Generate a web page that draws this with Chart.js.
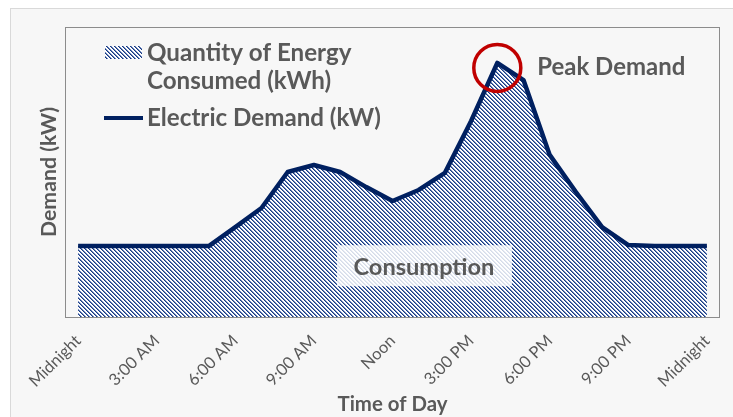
<!DOCTYPE html>
<html><head><meta charset="utf-8">
<script src="https://cdn.jsdelivr.net/npm/chart.js@4.4.1/dist/chart.umd.min.js"></script>
<style>
html,body{margin:0;padding:0;background:#fff;overflow:hidden;}
#frame{position:absolute;left:10px;top:8px;width:760px;height:440px;border:1px solid #d9d9d9;background:#f7f7f7;}
#wrap{position:absolute;left:0;top:0;width:733px;height:417px;}
</style></head><body>
<div id="frame"></div>
<div id="wrap"><canvas id="c" width="733" height="417"></canvas></div>
<script>
// ---- data ----
const hours = [0,1,2,3,4,5,6,7,8,9,10,11,12,13,14,15,16,17,18,19,20,21,22,23,24];
const demand = [24.5,24.5,24.5,24.5,24.5,24.5,31,37.6,50,52.4,50,44.8,40,43.8,49.7,67.6,87.6,81.7,55.9,43.1,31,24.8,24.5,24.5,24.5];
const tickHours = [0,3,6,9,12,15,18,21,24];
const tickLabels = ['Midnight','3:00 AM','6:00 AM','9:00 AM','Noon','3:00 PM','6:00 PM','9:00 PM','Midnight'];
const legendLabels = ['Quantity of Energy','Consumed (kWh)','Electric Demand (kW)'];
const peakLabel = 'Peak Demand';
const areaLabel = 'Consumption';

const FAM = 'Lato, "Open Sans", sans-serif';
const TXT = '#595959';
const NAVY = '#002060';

function fitSize(text, weight, target){
  const m = document.createElement('canvas').getContext('2d');
  m.font = weight + ' 100px ' + FAM;
  return 100 * target / m.measureText(text).width;
}
const legendSize = fitSize(legendLabels[2], 'bold', 234);
const peakSize = fitSize(peakLabel, 'bold', 148);
const areaSize = fitSize(areaLabel, 'bold', 141);
const yTitleSize = fitSize('Demand (kW)', 'bold', 130);
const xTitleSize = fitSize('Time of Day', 'bold', 110);

const canvas = document.getElementById('c');
const ctx = canvas.getContext('2d');

function makePattern(){
  const c = document.createElement('canvas'); c.width = 4; c.height = 4;
  const g = c.getContext('2d');
  g.fillStyle = '#ffffff'; g.fillRect(0,0,4,4);
  for (let i=0;i<4;i++){
    g.fillStyle = '#183a80'; g.fillRect(i,i,1,1);
    g.fillStyle = '#6a84bc'; g.fillRect((i+1)%4,i,1,1);
  }
  return ctx.createPattern(c,'repeat');
}
const pattern = makePattern();

const overlay = {
  id: 'overlay',
  afterDatasetsDraw(chart){
    const c = chart.ctx, xs = chart.scales.x, ys = chart.scales.y;
    c.save();
    c.font = 'bold ' + areaSize + 'px ' + FAM;
    const cx = xs.getPixelForValue(13.2), cy = ys.getPixelForValue(17.5);
    c.fillStyle = 'rgba(255,255,255,0.82)';
    c.fillRect(cx - 87, cy - 21, 175, 41);
    c.fillStyle = TXT; c.textAlign = 'center'; c.textBaseline = 'middle';
    c.fillText(areaLabel, cx, cy + 1);
    c.restore();
  },
  afterDraw(chart){
    const c = chart.ctx, a = chart.chartArea, xs = chart.scales.x, ys = chart.scales.y;
    c.save();
    c.strokeStyle = '#8c8c8c'; c.lineWidth = 1;
    c.strokeRect(a.left + 0.5, a.top + 0.5, a.right - a.left - 1, a.bottom - a.top);
    let pi = 0; demand.forEach((v,i)=>{ if (v > demand[pi]) pi = i; });
    const px = xs.getPixelForValue(hours[pi]), py = ys.getPixelForValue(demand[pi]);
    c.strokeStyle = '#c00000'; c.lineWidth = 3.5;
    c.beginPath(); c.arc(px, py + 5, 23.5, 0, Math.PI*2); c.stroke();
    c.fillStyle = TXT; c.textBaseline = 'middle'; c.textAlign = 'left';
    c.font = 'bold ' + peakSize + 'px ' + FAM;
    c.fillText(peakLabel, px + 40, py + 4);
    c.fillStyle = pattern;
    c.fillRect(105, 46, 37, 13);
    c.strokeStyle = NAVY; c.lineWidth = 4;
    c.beginPath(); c.moveTo(104, 118); c.lineTo(143, 118); c.stroke();
    c.fillStyle = TXT;
    c.font = 'bold ' + legendSize + 'px ' + FAM;
    c.fillText(legendLabels[0], 147, 53);
    c.fillText(legendLabels[1], 147, 81);
    c.fillText(legendLabels[2], 147, 118);
    c.restore();
  }
};

new Chart(ctx, {
  type: 'line',
  data: {
    datasets: [{
      label: 'Electric Demand (kW)',
      data: hours.map((h,i)=>({x:h, y:demand[i]})),
      borderColor: NAVY,
      borderWidth: 4.5,
      backgroundColor: pattern,
      fill: 'origin',
      pointRadius: 0,
      tension: 0,
      borderJoinStyle: 'round'
    }]
  },
  options: {
    responsive: false,
    animation: false,
    devicePixelRatio: 1,
    layout: { padding: { left: 10, top: 27, right: 13, bottom: 0 } },
    plugins: { legend: { display: false }, tooltip: { enabled: false } },
    scales: {
      x: {
        type: 'linear', min: -0.5, max: 24.5,
        afterBuildTicks: (s) => { s.ticks = tickHours.map(v => ({value: v})); },
        afterFit: (s) => { s.height = 100; },
        grid: { display: false },
        border: { display: false },
        ticks: {
          autoSkip: false, maxRotation: 45, minRotation: 45, padding: 6,
          color: TXT, font: { family: FAM, size: 16.5 },
          callback: (v) => tickLabels[tickHours.indexOf(v)]
        },
        title: { display: true, text: 'Time of Day', color: TXT,
                 font: { family: FAM, size: xTitleSize, weight: 'bold' }, padding: { top: 0, bottom: 0 } }
      },
      y: {
        min: 0, max: 100,
        afterFit: (s) => { s.width = 55; },
        grid: { display: false },
        border: { display: false },
        ticks: { display: false },
        title: { display: true, text: 'Demand (kW)', color: TXT,
                 font: { family: FAM, size: yTitleSize, weight: 'bold' },
                 padding: { top: 39 - yTitleSize*0.6, bottom: 0 } }
      }
    }
  },
  plugins: [overlay]
});
</script>
</body></html>
